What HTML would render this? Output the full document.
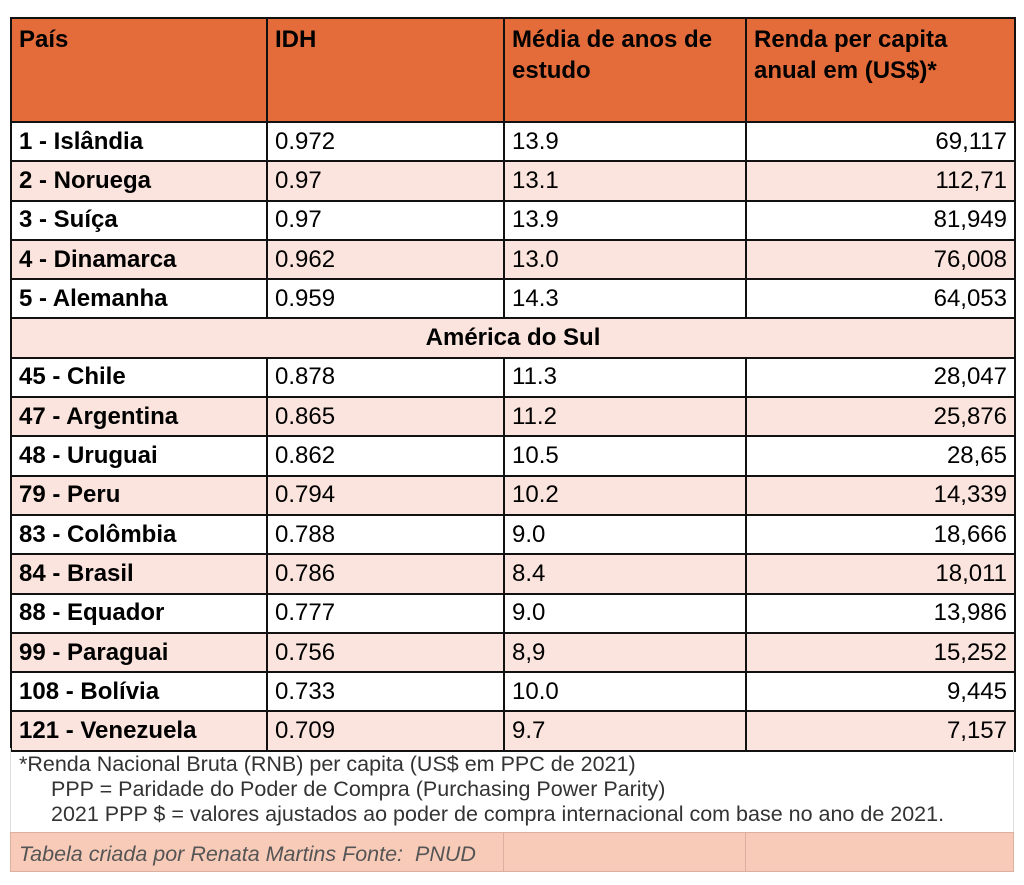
<!DOCTYPE html>
<html><head><meta charset="utf-8"><style>
body{margin:0;width:1024px;height:885px;background:#fff;font-family:"Liberation Sans",Arial,sans-serif;position:relative;overflow:hidden}
table{position:absolute;left:10px;top:17px;border-collapse:collapse;width:1004px;table-layout:fixed}
td,th{border:2px solid #111;font-size:24px;padding:0 7px;height:37.3px;color:#000;text-align:left;font-weight:normal;line-height:26px}
th{background:#e46c3a;font-weight:bold;height:97px;vertical-align:top;padding-top:5px;line-height:31px}
td.c{font-weight:bold}
td.r{text-align:right}
tr.p td{background:#fbe4dd}
tr.w td{background:#fff}
.notes{position:absolute;left:10px;top:748px;width:1004px;height:84px;border-left:1px solid #ddd;border-right:1px solid #ddd;font-size:21.5px;color:#333;line-height:25px;padding:4px 8px;box-sizing:border-box;white-space:nowrap}
.notes div.i{padding-left:32px}
.foot{position:absolute;left:10px;top:832px;width:1004px;height:40px;background:#f8cbb9;border:1px solid #dcb0a0;box-sizing:border-box;font-style:italic;font-size:21.5px;color:#555;display:flex;white-space:nowrap}
.foot div{border-right:1px solid #dcb0a0;padding:9px 8px 0;box-sizing:border-box}
</style></head><body>
<table>
<colgroup><col style="width:256px"><col style="width:237px"><col style="width:242px"><col style="width:269px"></colgroup>
<tr><th>País</th><th>IDH</th><th>Média de anos de<br>estudo</th><th>Renda per capita<br>anual em (US$)*</th></tr>
<tr class="w"><td class="c">1 - Islândia</td><td>0.972</td><td>13.9</td><td class="r">69,117</td></tr>
<tr class="p"><td class="c">2 - Noruega</td><td>0.97</td><td>13.1</td><td class="r">112,71</td></tr>
<tr class="w"><td class="c">3 - Suíça</td><td>0.97</td><td>13.9</td><td class="r">81,949</td></tr>
<tr class="p"><td class="c">4 - Dinamarca</td><td>0.962</td><td>13.0</td><td class="r">76,008</td></tr>
<tr class="w"><td class="c">5 - Alemanha</td><td>0.959</td><td>14.3</td><td class="r">64,053</td></tr>
<tr class="p"><td colspan="4" style="text-align:center;font-weight:bold">América do Sul</td></tr>
<tr class="w"><td class="c">45 - Chile</td><td>0.878</td><td>11.3</td><td class="r">28,047</td></tr>
<tr class="p"><td class="c">47 - Argentina</td><td>0.865</td><td>11.2</td><td class="r">25,876</td></tr>
<tr class="w"><td class="c">48 - Uruguai</td><td>0.862</td><td>10.5</td><td class="r">28,65</td></tr>
<tr class="p"><td class="c">79 - Peru</td><td>0.794</td><td>10.2</td><td class="r">14,339</td></tr>
<tr class="w"><td class="c">83 - Colômbia</td><td>0.788</td><td>9.0</td><td class="r">18,666</td></tr>
<tr class="p"><td class="c">84 - Brasil</td><td>0.786</td><td>8.4</td><td class="r">18,011</td></tr>
<tr class="w"><td class="c">88 - Equador</td><td>0.777</td><td>9.0</td><td class="r">13,986</td></tr>
<tr class="p"><td class="c">99 - Paraguai</td><td>0.756</td><td>8,9</td><td class="r">15,252</td></tr>
<tr class="w"><td class="c">108 - Bolívia</td><td>0.733</td><td>10.0</td><td class="r">9,445</td></tr>
<tr class="p"><td class="c">121 - Venezuela</td><td>0.709</td><td>9.7</td><td class="r">7,157</td></tr>
</table>
<div class="notes">
<div>*Renda Nacional Bruta (RNB) per capita (US$ em PPC de 2021)</div>
<div class="i">PPP = Paridade do Poder de Compra (Purchasing Power Parity)</div>
<div class="i">2021 PPP $ = valores ajustados ao poder de compra internacional com base no ano de 2021.</div>
</div>
<div class="foot">
<div style="width:493px">Tabela criada por Renata Martins Fonte:&nbsp; PNUD</div><div style="width:242px"></div><div style="flex:1;border-right:none"></div>
</div>
</body></html>
